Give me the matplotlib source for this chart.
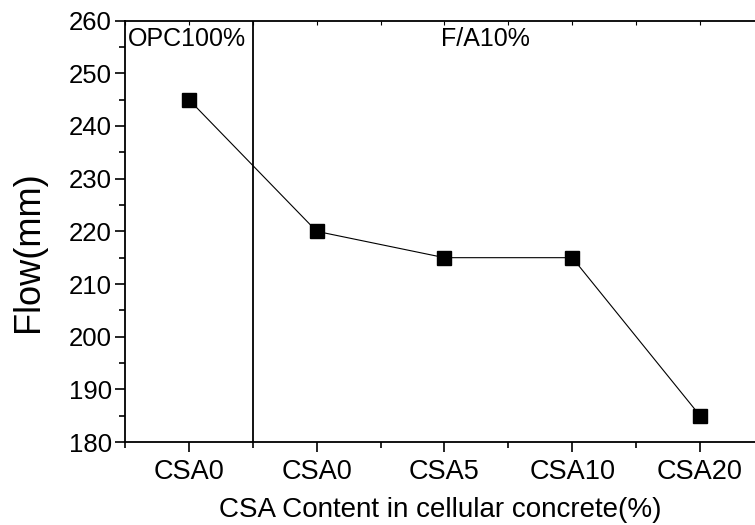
import numpy as np
import matplotlib.pyplot as plt
from matplotlib.ticker import MultipleLocator, FixedLocator

plt.rcParams['font.family'] = ['Liberation Sans', 'DejaVu Sans']

# data
labels = ["CSA0", "CSA0", "CSA5", "CSA10", "CSA20"]
flow = [245, 220, 215, 215, 185]
x = np.arange(1, len(labels) + 1)

fig = plt.figure(figsize=(7.55, 5.25), dpi=100)
ax = fig.add_axes([0.1656, 0.158, 0.8344, 0.8027])

ax.plot(x, flow, color="black", lw=0.8, marker="s", markersize=10,
        markerfacecolor="black", markeredgecolor="black")

# divider between OPC and F/A groups
ax.axvline(1.5, color="black", lw=1.3)
ax.text(0.525, 258.7, "OPC100%", fontsize=18, va="top", ha="left")
ax.text(3.32, 258.7, "F/A10%", fontsize=18, va="top", ha="center")

ax.set_xlim(0.5, 5.43)
ax.set_ylim(180, 260)
ax.set_xticks(x)
ax.set_xticklabels(labels)
ax.xaxis.set_minor_locator(FixedLocator(np.arange(0.5, 6, 1.0)))
ax.yaxis.set_major_locator(MultipleLocator(10))
ax.yaxis.set_minor_locator(MultipleLocator(5))

ax.spines["right"].set_visible(False)
for s in ["left", "bottom", "top"]:
    ax.spines[s].set_linewidth(1.3)

ax.tick_params(axis="both", which="major", direction="out", length=7.5, width=1.2)
ax.tick_params(axis="both", which="minor", direction="out", length=4, width=1.2)
ax.tick_params(axis="x", which="major", labelsize=19.5, pad=5)
ax.tick_params(axis="y", which="major", labelsize=18.5, pad=2)
ax.tick_params(axis="x", which="both", top=True, labeltop=False)
ax.tick_params(axis="y", which="both", right=False)

# top ticks point inward
for t in ax.xaxis.get_major_ticks() + ax.xaxis.get_minor_ticks():
    t.tick2line.set_marker(3)
    t.tick2line.set_markersize(3)
    t.tick2line.set_markeredgewidth(0.8)

ax.set_xlabel("CSA Content in cellular concrete(%)", fontsize=20, labelpad=8)
ax.set_ylabel("Flow(mm)", fontsize=26)
ax.yaxis.set_label_coords(-0.125, 0.453)

fig.savefig("out.png", dpi=100)
